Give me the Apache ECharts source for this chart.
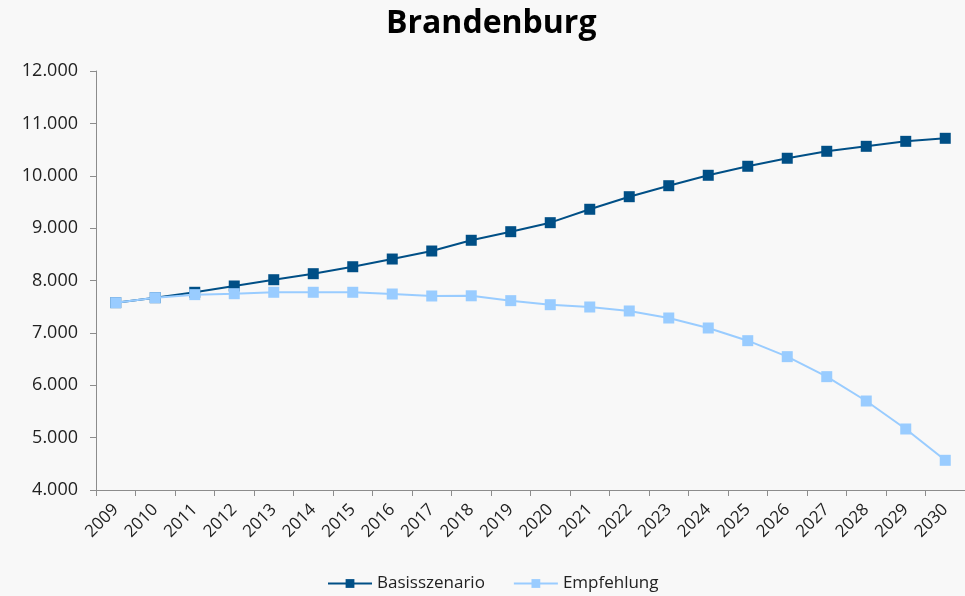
<!DOCTYPE html>
<html>
<head>
<meta charset="utf-8">
<script src="https://cdn.jsdelivr.net/npm/echarts@6/dist/echarts.min.js"></script>
<style>
	html, body { margin: 0; padding: 0; background: #f8f8f8; }
	#chart { width: 965px; height: 596px; }
</style>
</head>
<body>
<div id="chart"></div>
<script>
var years = ['2009', '2010', '2011', '2012', '2013', '2014', '2015', '2016', '2017', '2018', '2019',
	'2020', '2021', '2022', '2023', '2024', '2025', '2026', '2027', '2028', '2029', '2030'];
var basisszenario = [7577, 7672, 7775, 7895, 8015, 8130, 8263, 8410, 8563, 8768, 8932,
	9104, 9360, 9600, 9810, 10009, 10181, 10334, 10467, 10562, 10657, 10715];
var empfehlung = [7577, 7672, 7730, 7748, 7775, 7775, 7775, 7742, 7704, 7708, 7615,
	7538, 7494, 7418, 7284, 7093, 6851, 6546, 6164, 5699, 5165, 4567];

var fontFam = '"Open Sans", "Noto Sans", sans-serif';

var myChart = echarts.init(document.getElementById('chart'));
var option = {
	backgroundColor : '#f8f8f8',
	animation : false,
	title : {
		text : 'Brandenburg',
		left : 381,
		top : 3,
		textStyle : {
			fontFamily : fontFam,
			fontSize : 32,
			fontWeight : 'bold',
			color : '#000'
		}
	},
	legend : {
		top : 570,
		left : 322,
		itemWidth : 44,
		itemHeight : 11,
		itemGap : 28,
		textStyle : {
			fontFamily : fontFam,
			fontSize : 17,
			color : '#222'
		},
		data : [ 'Basisszenario', 'Empfehlung' ]
	},
	grid : {
		left : 96,
		right : -11,
		top : 71,
		bottom : 106,
		containLabel : false
	},
	xAxis : [ {
		type : 'category',
		boundaryGap : true,
		data : years,
		axisLine : { lineStyle : { color : '#8c8c8c', width : 1 } },
		axisTick : { show : true, length : 6, lineStyle : { color : '#8c8c8c' } },
		axisLabel : {
			rotate : 45,
			interval : 0,
			margin : 17,
			fontFamily : fontFam,
			fontSize : 17,
			color : '#222'
		},
		splitLine : { show : false }
	} ],
	yAxis : [ {
		type : 'value',
		min : 4000,
		max : 12000,
		interval : 1000,
		axisLine : { show : true, lineStyle : { color : '#8c8c8c', width : 1 } },
		axisTick : { show : true, length : 6, lineStyle : { color : '#8c8c8c' } },
		axisLabel : {
			margin : 18,
			fontFamily : fontFam,
			fontSize : 18,
			color : '#222',
			formatter : function(v) {
				return (v / 1000).toFixed(3);
			}
		},
		splitLine : { show : false }
	} ],
	series : [ {
		name : 'Empfehlung',
		type : 'line',
		data : empfehlung,
		symbol : 'rect',
		symbolSize : 11,
		itemStyle : { color : '#99ccff' },
		lineStyle : { color : '#99ccff', width : 2 },
		z : 2
	}, {
		name : 'Basisszenario',
		type : 'line',
		data : basisszenario,
		symbol : 'rect',
		symbolSize : 11,
		itemStyle : { color : '#004f86' },
		lineStyle : { color : '#004f86', width : 2 },
		z : 1
	} ]
};
myChart.setOption(option);
</script>
</body>
</html>
